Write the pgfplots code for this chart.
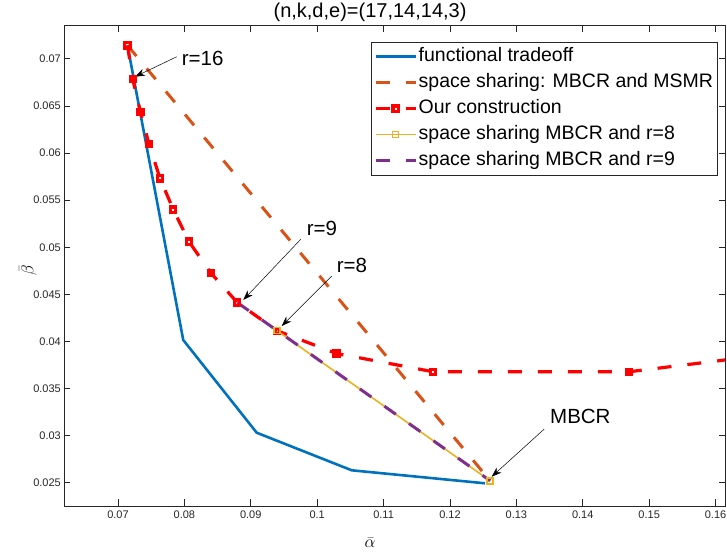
\documentclass[border=0pt]{standalone}
\usepackage{fontspec}
\setmainfont{Liberation Sans}
\usepackage{pgfplots}
\pgfplotsset{compat=1.18}
\usetikzlibrary{arrows.meta,calc}

\definecolor{mblue}{rgb}{0,0.447,0.741}
\definecolor{morange}{rgb}{0.85,0.325,0.098}
\definecolor{myellow}{rgb}{0.929,0.694,0.125}
\definecolor{mpurple}{rgb}{0.494,0.184,0.556}
\definecolor{axgray}{rgb}{0.15,0.15,0.15}

\begin{document}
\begin{tikzpicture}
\begin{axis}[
    scale only axis,
    width=661pt, height=480.5pt,
    xmin=0.06187, xmax=0.16142,
    ymin=0.02253, ymax=0.07354,
    xtick={0.07,0.08,0.09,0.1,0.11,0.12,0.13,0.14,0.15,0.16},
    ytick={0.025,0.03,0.035,0.04,0.045,0.05,0.055,0.06,0.065,0.07},
    scaled ticks=false,
    /pgf/number format/assume math mode=true,
    xticklabel style={/pgf/number format/fixed, /pgf/number format/precision=3, inner sep=0pt, text depth=0pt, yshift=-5pt},
    yticklabel style={/pgf/number format/fixed, /pgf/number format/precision=3, inner sep=1pt, xshift=-2pt},
    tick label style={font=\fontsize{11}{13}\selectfont, text=axgray},
    major tick length=6.5pt,
    tick style={axgray, line width=0.7pt},
    axis line style={axgray, line width=0.8pt},
    every axis title shift=0pt,
    title={(n,k,d,e)=(17,14,14,3)},
    title style={at={(axis description cs:0.463,1.028)}, anchor=center, font=\fontsize{20}{23}\selectfont, inner sep=0pt},
    xlabel={$\bar{\alpha}$},
    xlabel style={at={(axis description cs:0.463,-0.076)}, anchor=center, inner sep=0pt, font=\fontsize{18}{20}\selectfont},
    ylabel={$\bar{\beta}$},
    ylabel style={at={(axis description cs:-0.0545,0.491)}, anchor=center, inner sep=0pt, rotate=0, font=\fontsize{18}{20}\selectfont},
    legend image code/.code={\draw[mark repeat=2,mark phase=2,#1] plot coordinates {(0pt,0pt) (20pt,0pt) (40pt,0pt)};},
    legend cell align=left,
    legend style={at={(rel axis cs:0.9894,0.9663)}, anchor=north east,
        draw=axgray, line width=0.8pt, inner xsep=3pt, inner ysep=1.5pt,
        font=\fontsize{19.5}{22}\selectfont,
        nodes={text height=15pt, text depth=5pt, inner ysep=3pt, inner xsep=1.5pt}},
]
\addplot[mblue, line width=2.6pt] coordinates {
(0.07143,0.07143) (0.07983,0.04015) (0.09089,0.03031) (0.10520,0.02632) (0.12527,0.02494)
};
\addlegendentry{functional tradeoff}

\addplot[morange, line width=3pt, dash pattern=on 14pt off 16pt] coordinates {
(0.07143,0.07143) (0.12605,0.02521)
};
\addlegendentry{space sharing: MBCR and MSMR}

\addplot[red, line width=3.2pt, dash pattern=on 14pt off 16pt,
    mark=square, mark size=2.6pt, mark options={solid, line width=3.1pt}] coordinates {
(0.07143,0.07143) (0.07221,0.06786) (0.07339,0.06435) (0.07467,0.06096)
(0.07633,0.05731) (0.07833,0.05400) (0.08069,0.05060) (0.08396,0.04729)
(0.08797,0.04413) (0.09395,0.04114) (0.10291,0.03872) (0.11748,0.03678)
(0.14696,0.03678) (0.20000,0.04137)
};
\addlegendentry{Our construction}

\addplot[myellow, line width=1.6pt, mark=square, mark size=3pt, mark options={solid, line width=1.5pt}] coordinates {
(0.09395,0.04114) (0.12605,0.02521)
};
\addlegendentry{space sharing MBCR and r=8}

\addplot[mpurple, line width=3pt, dash pattern=on 14pt off 16pt] coordinates {
(0.08797,0.04413) (0.12605,0.02521)
};
\addlegendentry{space sharing MBCR and r=9}

\coordinate (bl) at (rel axis cs:0,0);
\coordinate (tr) at (rel axis cs:1,1);

\draw[-{Stealth[length=10pt,width=7pt]}, line width=0.5pt] (axis cs:0.07884,0.07022) -- (axis cs:0.07256,0.06810);
\node[anchor=west, inner sep=0pt, font=\fontsize{20.5}{24}\selectfont] at (axis cs:0.07959,0.07008) {r=16};
\draw[-{Stealth[length=10pt,width=7pt]}, line width=0.5pt] (axis cs:0.09752,0.05084) -- (axis cs:0.08887,0.04440);
\node[anchor=west, inner sep=0pt, font=\fontsize{20.5}{24}\selectfont] at (axis cs:0.09842,0.05204) {r=9};
\draw[-{Stealth[length=10pt,width=7pt]}, line width=0.5pt] (axis cs:0.10218,0.04694) -- (axis cs:0.09465,0.04163);
\node[anchor=west, inner sep=0pt, font=\fontsize{20.5}{24}\selectfont] at (axis cs:0.10294,0.04811) {r=8};
\draw[-{Stealth[length=10pt,width=7pt]}, line width=0.5pt] (axis cs:0.13420,0.03070) -- (axis cs:0.12628,0.02564);
\node[anchor=west, inner sep=0pt, font=\fontsize{20.5}{24}\selectfont] at (axis cs:0.13506,0.03201) {MBCR};
\end{axis}
\pgfresetboundingbox
\path[use as bounding box] ($(bl)+(-64pt,-46pt)$) rectangle ($(tr)+(2pt,25.5pt)$);
\end{tikzpicture}
\end{document}
